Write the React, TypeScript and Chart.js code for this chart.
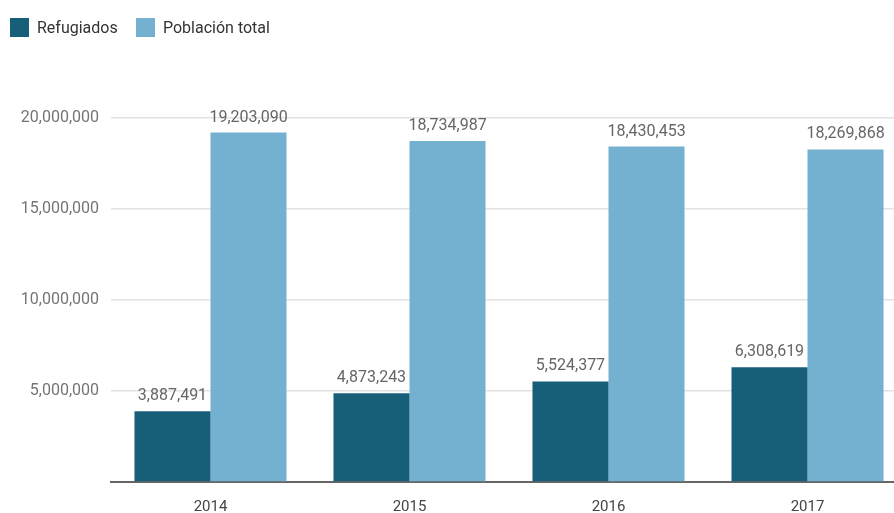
import React, { useEffect, useRef } from 'react';
import { Chart, registerables } from 'chart.js';

Chart.register(...registerables);

const categories = ['2014', '2015', '2016', '2017'];
const refugiados = [3887491, 4873243, 5524377, 6308619];
const poblacionTotal = [19203090, 18734987, 18430453, 18269868];
const seriesNames = ['Refugiados', 'Población total'];
const seriesColors = ['#175f79', '#74b0cf'];
const yTicks = [0, 5000000, 10000000, 15000000, 20000000];

const FONT = 'Roboto';

const valueLabels = {
  id: 'valueLabels',
  afterDatasetsDraw(chart: any) {
    const ctx = chart.ctx;
    ctx.save();
    ctx.font = `16px ${FONT}`;
    ctx.fillStyle = '#666666';
    ctx.textAlign = 'center';
    ctx.textBaseline = 'alphabetic';
    chart.data.datasets.forEach((ds: any, i: number) => {
      const meta = chart.getDatasetMeta(i);
      meta.data.forEach((el: any, j: number) => {
        const v = ds.data[j] as number;
        ctx.fillText(v.toLocaleString('en-US'), el.x, el.y - 11);
      });
    });
    ctx.restore();
  },
};

export default function App() {
  const canvasRef = useRef<HTMLCanvasElement | null>(null);

  useEffect(() => {
    if (!canvasRef.current) return;
    const chart = new Chart(canvasRef.current, {
      type: 'bar',
      data: {
        labels: categories,
        datasets: [
          {
            label: seriesNames[0],
            data: refugiados,
            backgroundColor: seriesColors[0],
            categoryPercentage: 0.764,
            barPercentage: 1,
          },
          {
            label: seriesNames[1],
            data: poblacionTotal,
            backgroundColor: seriesColors[1],
            categoryPercentage: 0.764,
            barPercentage: 1,
          },
        ],
      },
      options: {
        animation: false,
        responsive: true,
        maintainAspectRatio: false,
        layout: { padding: { top: 118, left: 0, right: 0, bottom: 1 } },
        plugins: {
          legend: { display: false },
          tooltip: { enabled: false },
        },
        scales: {
          x: {
            grid: { display: false, drawTicks: false },
            border: { display: true, color: '#666666', width: 2 },
            afterFit: (scale: any) => {
              scale.height = 30;
            },
            ticks: {
              color: '#444444',
              font: { family: FONT, size: 15 },
              padding: 16,
            },
          },
          y: {
            min: 0,
            max: 20000000,
            afterBuildTicks: (scale: any) => {
              scale.ticks = yTicks.map((v) => ({ value: v }));
            },
            afterFit: (scale: any) => {
              scale.width = 111;
            },
            border: { display: false },
            grid: {
              drawTicks: false,
              color: (c: any) => (c.tick && c.tick.value === 0 ? 'rgba(0,0,0,0)' : '#e3e3e3'),
              lineWidth: 1.5,
            },
            ticks: {
              color: '#757575',
              font: { family: FONT, size: 16 },
              padding: 12,
              callback: (v: any) => (Number(v) === 0 ? '' : Number(v).toLocaleString('en-US')),
            },
          },
        },
      },
      plugins: [valueLabels],
    });
    return () => chart.destroy();
  }, []);

  const legendItem = (i: number, left: number) => (
    <div
      key={i}
      style={{
        position: 'absolute',
        left,
        top: 17,
        display: 'flex',
        alignItems: 'center',
        height: 20,
        fontFamily: FONT,
        fontSize: 16,
        color: '#333333',
        whiteSpace: 'nowrap',
      }}
    >
      <span style={{ display: 'inline-block', width: 19, height: 19, background: seriesColors[i], marginRight: 8 }} />
      <span>{seriesNames[i]}</span>
    </div>
  );

  return (
    <div style={{ position: 'absolute', left: 0, top: 0, width: 894, height: 513, overflow: 'hidden', background: '#ffffff' }}>
      <div style={{ position: 'absolute', left: 0, top: 0, width: 907, height: 513 }}>
        <canvas ref={canvasRef} />
      </div>
      {legendItem(0, 10)}
      {legendItem(1, 136)}
    </div>
  );
}
